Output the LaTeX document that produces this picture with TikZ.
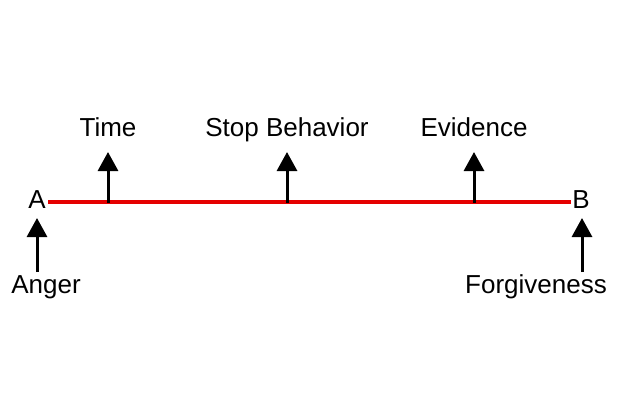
\documentclass[tikz,border=0pt]{standalone}
\usepackage{fontspec}
\setmainfont{Liberation Sans}
\usetikzlibrary{arrows.meta}
\begin{document}
\begin{tikzpicture}[x=1pt,y=-1pt,
  lbl/.style={font=\fontsize{26}{30}\selectfont, inner sep=0pt, text=black, anchor=base},
  up/.style={line width=3pt, -{Triangle[width=20pt,length=19pt]}, black},
  redline/.style={line width=4pt, red!90!black}]
\useasboundingbox (0,0) rectangle (619,415);
\node[lbl] (A) at (37,208) {A};
\node[lbl] (B) at (581,208) {B};
\coordinate (L) at (48,202);
\coordinate (R) at (571,202);
\draw[redline] (L) -- (R);
\node[lbl] (time) at (108,136) {Time};
\node[lbl] (stop) at (287,136) {Stop Behavior};
\node[lbl] (evid) at (474,136) {Evidence};
\node[lbl] (anger) at (46,293) {Anger};
\node[lbl] (forg) at (536,293) {Forgiveness};
\coordinate (t0) at (108,203); \coordinate (t1) at (108,152);
\coordinate (s0) at (287,203); \coordinate (s1) at (287,152);
\coordinate (e0) at (474,203); \coordinate (e1) at (474,152);
\coordinate (a0) at (37,272); \coordinate (a1) at (37,218);
\coordinate (b0) at (582,272); \coordinate (b1) at (582,218);
\draw[up] (t0) -- (t1);
\draw[up] (s0) -- (s1);
\draw[up] (e0) -- (e1);
\draw[up] (a0) -- (a1);
\draw[up] (b0) -- (b1);
\end{tikzpicture}
\end{document}
